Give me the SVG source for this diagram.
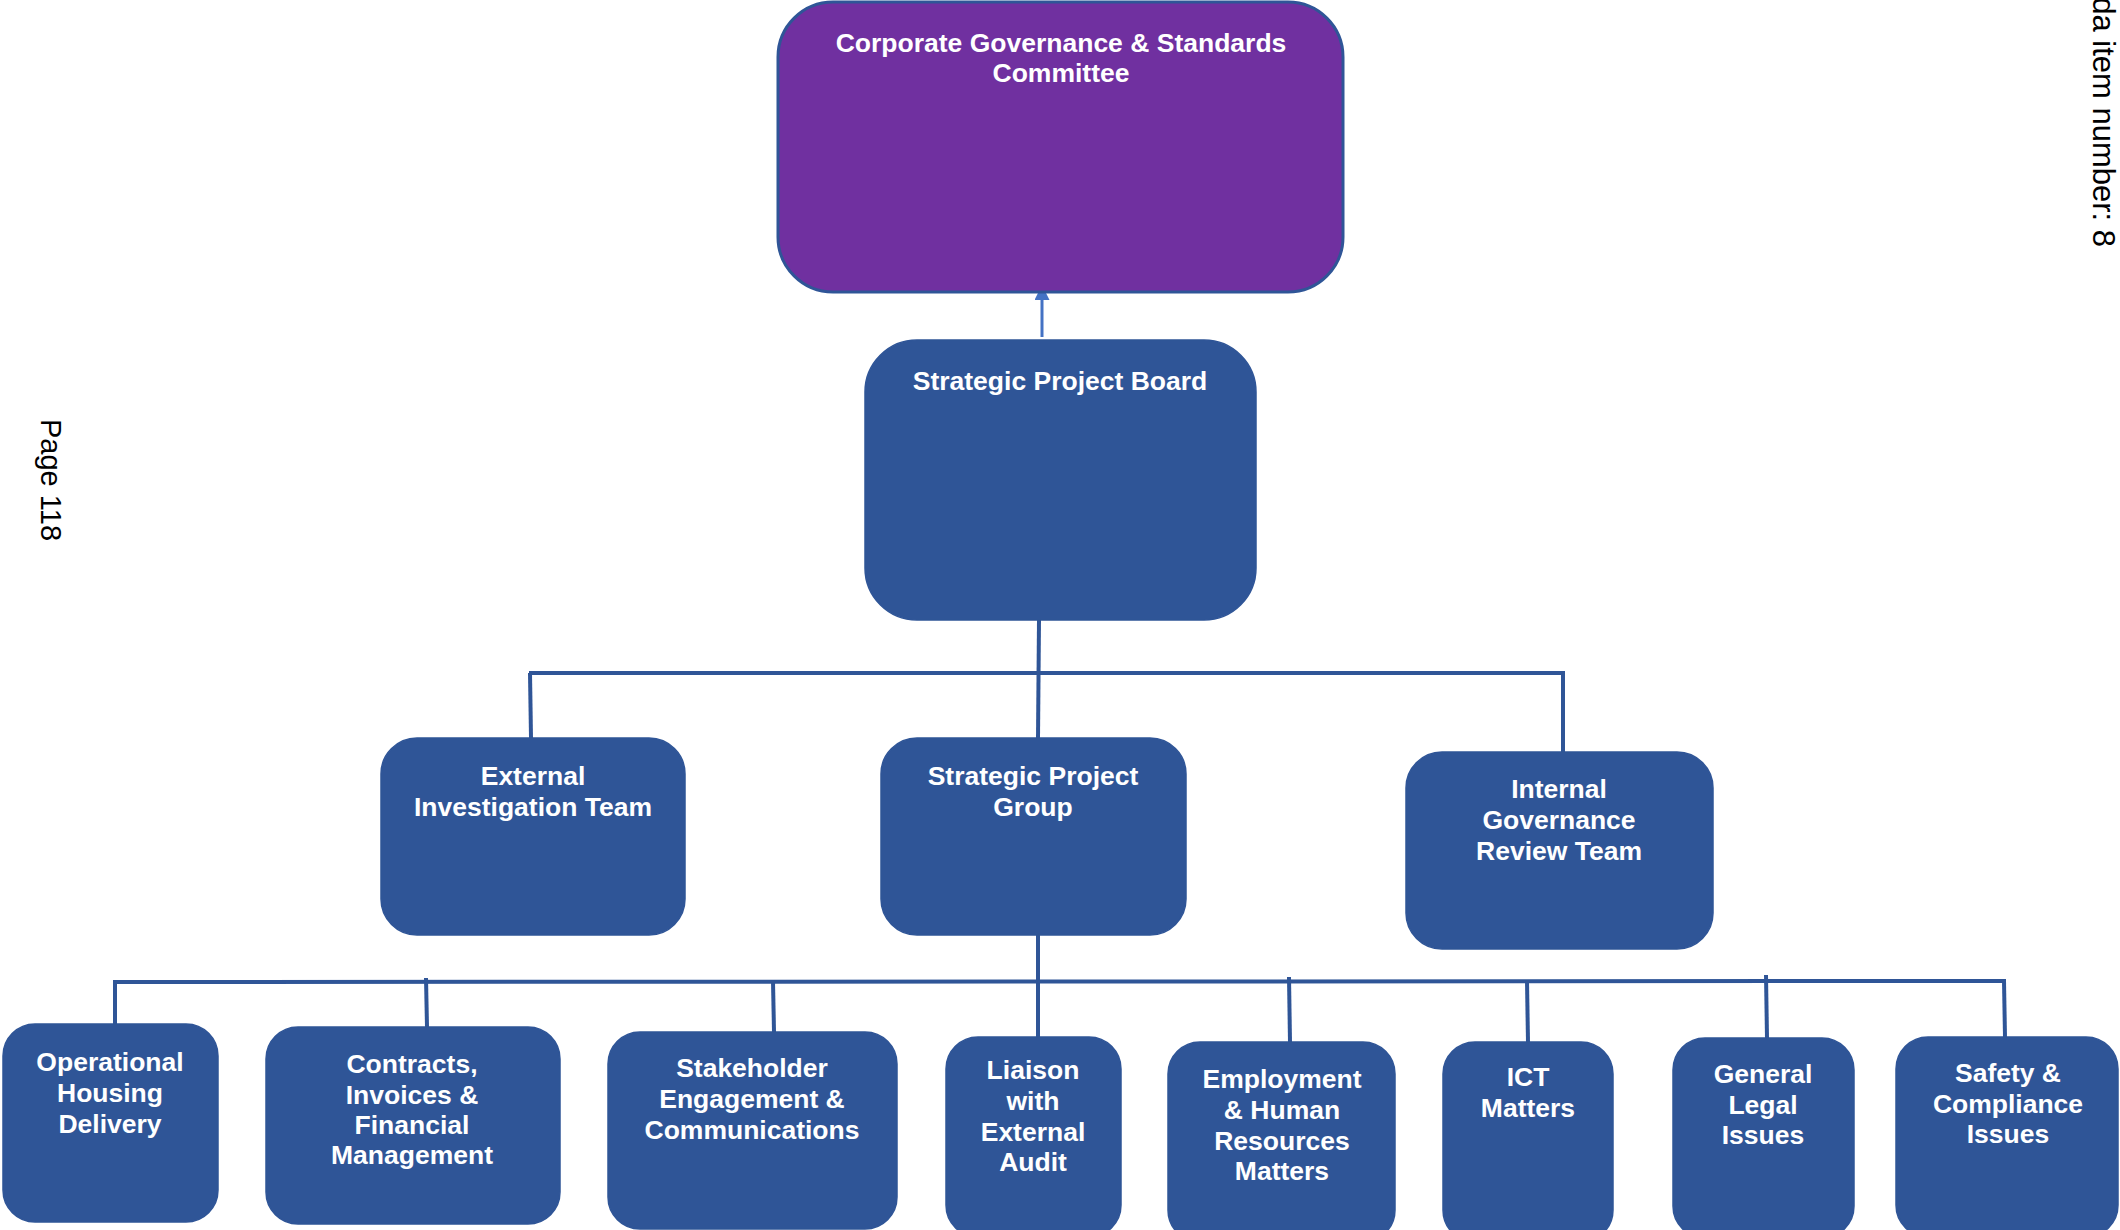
<svg xmlns="http://www.w3.org/2000/svg" width="2120" height="1230" viewBox="0 0 2120 1230">
<style>
.box{fill:#2F5597;stroke:#2F5597;stroke-width:1.5}
.top{fill:#7030A0;stroke:#2F5597;stroke-width:3}
.lbl{font-family:"Liberation Sans",Arial,sans-serif;font-weight:bold;font-size:26.5px;fill:#FFFFFF;text-anchor:middle}
.conn{stroke:#2F5597;stroke-width:4;fill:none}
.side{font-family:"Liberation Sans",Arial,sans-serif;font-size:29px;fill:#000000}
</style>
<defs>
<marker id="arr" markerUnits="userSpaceOnUse" markerWidth="15" markerHeight="15" refX="0" refY="7.5" orient="auto">
<path d="M0,0 L15,7.5 L0,15 z" fill="#4472C4"/>
</marker>
</defs>
<rect width="2120" height="1230" fill="#FFFFFF"/>
<g id="connectors">
<line x1="1042" y1="337" x2="1042" y2="300" stroke="#4472C4" stroke-width="3" marker-end="url(#arr)"/>
<line class="conn" x1="1039" y1="620" x2="1038" y2="738"/>
<line class="conn" x1="529" y1="673" x2="1565" y2="673"/>
<line class="conn" x1="530" y1="673" x2="531" y2="738"/>
<line class="conn" x1="1563" y1="673" x2="1563" y2="752"/>
<line class="conn" x1="1038" y1="934" x2="1038" y2="1037"/>
<line class="conn" x1="113" y1="982" x2="2006" y2="981"/>
<line class="conn" x1="115" y1="981" x2="115" y2="1024"/>
<line class="conn" x1="426" y1="978" x2="427" y2="1027"/>
<line class="conn" x1="773" y1="981" x2="774" y2="1032"/>
<line class="conn" x1="1289" y1="977" x2="1290" y2="1042"/>
<line class="conn" x1="1527" y1="981" x2="1528" y2="1042"/>
<line class="conn" x1="1766" y1="975" x2="1767" y2="1038"/>
<line class="conn" x1="2004" y1="981" x2="2005" y2="1037"/>
</g>
<g id="n-committee">
<rect class="top" x="778" y="2" width="565" height="290" rx="55" ry="55"/>
<text class="lbl" x="1061" y="52">Corporate Governance &amp; Standards</text>
<text class="lbl" x="1061" y="82">Committee</text>
</g>
<g id="n-board">
<rect class="box" x="865" y="340" width="391" height="280" rx="52" ry="52"/>
<text class="lbl" x="1060" y="390">Strategic Project Board</text>
</g>
<g id="n-external">
<rect class="box" x="381" y="738" width="304" height="197" rx="36" ry="36"/>
<text class="lbl" x="533" y="785">External</text>
<text class="lbl" x="533" y="816">Investigation Team</text>
</g>
<g id="n-group">
<rect class="box" x="881" y="738" width="305" height="197" rx="36" ry="36"/>
<text class="lbl" x="1033" y="785">Strategic Project</text>
<text class="lbl" x="1033" y="816">Group</text>
</g>
<g id="n-internal">
<rect class="box" x="1406" y="752" width="307" height="197" rx="36" ry="36"/>
<text class="lbl" x="1559" y="798">Internal</text>
<text class="lbl" x="1559" y="829">Governance</text>
<text class="lbl" x="1559" y="860">Review Team</text>
</g>
<g id="n-operational">
<rect class="box" x="3" y="1024" width="215" height="198" rx="32" ry="32"/>
<text class="lbl" x="110" y="1071">Operational</text>
<text class="lbl" x="110" y="1102">Housing</text>
<text class="lbl" x="110" y="1133">Delivery</text>
</g>
<g id="n-contracts">
<rect class="box" x="266" y="1027" width="294" height="197" rx="32" ry="32"/>
<text class="lbl" x="412" y="1073">Contracts,</text>
<text class="lbl" x="412" y="1104">Invoices &amp;</text>
<text class="lbl" x="412" y="1134">Financial</text>
<text class="lbl" x="412" y="1164">Management</text>
</g>
<g id="n-stakeholder">
<rect class="box" x="608" y="1032" width="289" height="197" rx="32" ry="32"/>
<text class="lbl" x="752" y="1077">Stakeholder</text>
<text class="lbl" x="752" y="1108">Engagement &amp;</text>
<text class="lbl" x="752" y="1139">Communications</text>
</g>
<g id="n-liaison">
<rect class="box" x="946" y="1037" width="175" height="200" rx="32" ry="32"/>
<text class="lbl" x="1033" y="1079">Liaison</text>
<text class="lbl" x="1033" y="1110">with</text>
<text class="lbl" x="1033" y="1141">External</text>
<text class="lbl" x="1033" y="1171">Audit</text>
</g>
<g id="n-employment">
<rect class="box" x="1168" y="1042" width="227" height="200" rx="32" ry="32"/>
<text class="lbl" x="1282" y="1088">Employment</text>
<text class="lbl" x="1282" y="1119">&amp; Human</text>
<text class="lbl" x="1282" y="1150">Resources</text>
<text class="lbl" x="1282" y="1180">Matters</text>
</g>
<g id="n-ict">
<rect class="box" x="1443" y="1042" width="170" height="200" rx="32" ry="32"/>
<text class="lbl" x="1528" y="1086">ICT</text>
<text class="lbl" x="1528" y="1117">Matters</text>
</g>
<g id="n-legal">
<rect class="box" x="1673" y="1038" width="181" height="200" rx="32" ry="32"/>
<text class="lbl" x="1763" y="1083">General</text>
<text class="lbl" x="1763" y="1114">Legal</text>
<text class="lbl" x="1763" y="1144">Issues</text>
</g>
<g id="n-safety">
<rect class="box" x="1896" y="1037" width="222" height="200" rx="32" ry="32"/>
<text class="lbl" x="2008" y="1082">Safety &amp;</text>
<text class="lbl" x="2008" y="1113">Compliance</text>
<text class="lbl" x="2008" y="1143">Issues</text>
</g>
<text class="side" transform="translate(41,419) rotate(90)">Page 118</text>
<text class="side" style="font-size:31px" transform="translate(2093,247) rotate(90)" text-anchor="end">Agenda item number: 8</text>
</svg>
